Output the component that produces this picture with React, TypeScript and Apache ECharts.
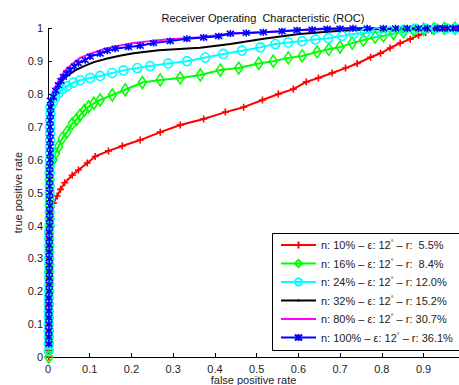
import React, { useEffect, useRef } from "react";
import * as echarts from "echarts";

const FONT = "'Liberation Sans', Arial, Helvetica, sans-serif";

const seriesNames = [
  "n: 10% – ε: 12° – r:  5.5%",
  "n: 16% – ε: 12° – r:  8.4%",
  "n: 24% – ε: 12° – r: 12.0%",
  "n: 32% – ε: 12° – r: 15.2%",
  "n: 80% – ε: 12° – r: 30.7%",
  "n: 100% – ε: 12° – r: 36.1%",
];

const xTicks = [0, 0.1, 0.2, 0.3, 0.4, 0.5, 0.6, 0.7, 0.8, 0.9];

// steep rise near fpr = 0 (shared by all curves, each takes its own part)
const riseTpr = [
  0, 0.02, 0.04, 0.06, 0.08, 0.1, 0.12, 0.14, 0.16, 0.18, 0.2, 0.22, 0.24, 0.26,
  0.28, 0.3, 0.32, 0.34, 0.36, 0.38, 0.4, 0.42, 0.44, 0.46, 0.48, 0.5, 0.52,
  0.54, 0.56, 0.58, 0.6, 0.62, 0.64, 0.66, 0.68, 0.7, 0.72, 0.74, 0.76, 0.78,
];
const riseFpr = [
  0.002, 0.002, 0.002, 0.002, 0.002, 0.002, 0.002, 0.002, 0.002, 0.002, 0.003,
  0.003, 0.003, 0.003, 0.003, 0.003, 0.003, 0.003, 0.003, 0.003, 0.004, 0.004,
  0.004, 0.004, 0.004, 0.004, 0.004, 0.004, 0.004, 0.004, 0.005, 0.005, 0.005,
  0.005, 0.005, 0.005, 0.005, 0.006, 0.006, 0.006,
];

const redFpr = [0.008, 0.013, 0.022, 0.03, 0.04, 0.058, 0.073, 0.094, 0.113, 0.145, 0.178, 0.221, 0.269, 0.317, 0.373, 0.425, 0.469, 0.514, 0.552, 0.588, 0.619, 0.648, 0.681, 0.713, 0.741, 0.773, 0.797, 0.82, 0.844, 0.868, 0.888, 0.905, 0.92, 0.935, 0.95, 0.965, 0.98];
const redTpr = [0.455, 0.468, 0.49, 0.51, 0.53, 0.553, 0.569, 0.59, 0.61, 0.627, 0.642, 0.66, 0.684, 0.706, 0.724, 0.745, 0.76, 0.782, 0.8, 0.815, 0.837, 0.849, 0.864, 0.879, 0.893, 0.912, 0.924, 0.94, 0.955, 0.967, 0.979, 0.987, 0.993, 0.997, 0.999, 1, 1];

const greenFpr = [0.012, 0.018, 0.025, 0.034, 0.046, 0.058, 0.068, 0.077, 0.087, 0.097, 0.11, 0.125, 0.154, 0.185, 0.226, 0.269, 0.317, 0.365, 0.413, 0.457, 0.505, 0.54, 0.576, 0.609, 0.645, 0.673, 0.7, 0.729, 0.756, 0.784, 0.804, 0.828, 0.852, 0.876, 0.9, 0.925, 0.95, 0.975];
const greenTpr = [0.6, 0.62, 0.64, 0.665, 0.685, 0.71, 0.722, 0.736, 0.75, 0.761, 0.772, 0.782, 0.797, 0.813, 0.835, 0.843, 0.849, 0.858, 0.873, 0.879, 0.893, 0.9, 0.91, 0.916, 0.928, 0.936, 0.943, 0.955, 0.964, 0.973, 0.977, 0.984, 0.989, 0.994, 0.997, 0.999, 1, 1];

const cyanFpr = [0.012, 0.017, 0.025, 0.035, 0.046, 0.061, 0.077, 0.101, 0.125, 0.154, 0.181, 0.214, 0.245, 0.288, 0.333, 0.377, 0.42, 0.465, 0.509, 0.545, 0.576, 0.609, 0.641, 0.672, 0.705, 0.732, 0.76, 0.788, 0.82, 0.852, 0.88, 0.905, 0.93, 0.955, 0.975];
const cyanTpr = [0.775, 0.79, 0.803, 0.815, 0.824, 0.835, 0.842, 0.849, 0.855, 0.864, 0.872, 0.879, 0.885, 0.893, 0.9, 0.911, 0.922, 0.932, 0.942, 0.952, 0.957, 0.961, 0.966, 0.97, 0.977, 0.983, 0.986, 0.988, 0.991, 0.995, 0.998, 0.999, 1, 1, 1];

const blackFpr = [0.007, 0.01, 0.013, 0.017, 0.025, 0.037, 0.049, 0.065, 0.085, 0.11, 0.142, 0.175, 0.205, 0.265, 0.325, 0.365, 0.437, 0.517, 0.597, 0.677, 0.756, 0.85, 0.985];
const blackTpr = [0.745, 0.77, 0.782, 0.805, 0.821, 0.845, 0.858, 0.872, 0.884, 0.897, 0.908, 0.917, 0.924, 0.933, 0.938, 0.941, 0.952, 0.968, 0.982, 0.99, 0.996, 0.999, 1];

const magentaFpr = [0.008, 0.013, 0.022, 0.03, 0.037, 0.046, 0.061, 0.077, 0.1, 0.125, 0.16, 0.205, 0.245, 0.285, 0.365, 0.437, 0.517, 0.6, 0.665, 0.985];
const magentaTpr = [0.795, 0.812, 0.833, 0.85, 0.864, 0.878, 0.894, 0.91, 0.922, 0.933, 0.945, 0.955, 0.961, 0.966, 0.973, 0.984, 0.988, 0.994, 1, 1];

const blueFpr = [0.013, 0.019, 0.025, 0.031, 0.037, 0.045, 0.053, 0.063, 0.073, 0.089, 0.101, 0.125, 0.142, 0.161, 0.193, 0.221, 0.253, 0.293, 0.333, 0.373, 0.409, 0.437, 0.475, 0.516, 0.561, 0.597, 0.633, 0.669, 0.7, 0.731, 0.765, 0.804, 0.833, 0.861, 0.888, 0.909, 0.933, 0.945, 0.957, 0.971, 0.983];
const blueTpr = [0.791, 0.81, 0.827, 0.84, 0.852, 0.863, 0.873, 0.884, 0.894, 0.903, 0.914, 0.923, 0.932, 0.938, 0.943, 0.947, 0.955, 0.961, 0.968, 0.972, 0.976, 0.984, 0.986, 0.988, 0.991, 0.994, 0.996, 0.998, 0.999, 1, 1, 1, 1, 1, 1, 1, 1, 1, 1, 1, 1];

function build(riseFrom: number, riseTo: number, fpr: number[], tpr: number[]) {
  const pts: number[][] = [];
  for (let i = 0; i < riseTpr.length; i++) {
    if (riseTpr[i] >= riseFrom && riseTpr[i] <= riseTo) pts.push([riseFpr[i], riseTpr[i]]);
  }
  for (let i = 0; i < fpr.length; i++) pts.push([fpr[i], tpr[i]]);
  return pts;
}

const PLUS = "path://M5,0L5,10M0,5L10,5";
const STAR = "path://M5,0L5,10M1,1L9,9M9,1L1,9";
const DOT = "path://M0,0L0,0M5,3.5L5,6.5M10,10L10,10";

export default function App() {
  const ref = useRef<HTMLDivElement>(null);
  useEffect(() => {
    document.body.style.margin = "0";
    const chart = echarts.init(ref.current!, null, { renderer: "svg" });
    const mk = (
      name: string,
      color: string,
      data: number[][],
      symbol: string,
      size: number | number[],
      hollow: boolean,
      show: boolean,
      border: string
    ) => ({
      name,
      type: "line",
      data,
      symbol,
      symbolSize: size,
      showSymbol: show,
      lineStyle: { color, width: 2 },
      itemStyle: {
        color: hollow ? "rgba(0,0,0,0)" : color,
        borderColor: border,
        borderWidth: 1.6,
      },
      emphasis: { disabled: true },
      clip: false,
    });
    const none = "rgba(0,0,0,0)";
    chart.setOption({
      animation: false,
      title: {
        text: "Receiver Operating  Characteristic (ROC)",
        left: 258,
        top: 7,
        textAlign: "center",
        textStyle: { fontFamily: FONT, fontSize: 11, fontWeight: "normal", color: "#111" },
      },
      grid: { left: 48, right: 0, top: 28.3, bottom: 28, outerBoundsMode: "none", containLabel: false },
      xAxis: {
        type: "value",
        min: 0,
        max: 0.985,
        name: "false positive rate",
        nameLocation: "middle",
        nameGap: 17,
        nameMoveOverlap: false,
        nameTextStyle: { fontFamily: FONT, fontSize: 11, color: "#222" },
        axisLine: { lineStyle: { color: "#000", width: 1 } },
        axisTick: { inside: true, length: 4, customValues: xTicks, lineStyle: { color: "#000" } },
        axisLabel: { customValues: xTicks, margin: 6, fontFamily: FONT, fontSize: 11, color: "#222" },
        splitLine: { show: false },
      },
      yAxis: {
        type: "value",
        min: 0,
        max: 1,
        interval: 0.1,
        name: "true positive rate",
        nameLocation: "middle",
        nameGap: 25,
        nameMoveOverlap: false,
        nameTextStyle: { fontFamily: FONT, fontSize: 11, color: "#222" },
        axisLine: { show: true, lineStyle: { color: "#000", width: 1 } },
        axisTick: { show: true, inside: true, length: 4, lineStyle: { color: "#000" } },
        axisLabel: { margin: 5, fontFamily: FONT, fontSize: 11, color: "#222" },
        splitLine: { show: false },
      },
      legend: {
        orient: "vertical",
        left: 280,
        top: 239,
        padding: 0,
        itemWidth: 35,
        itemHeight: 9,
        itemGap: 7,
        z: 10,
        data: seriesNames,
        formatter: (name: string) => {
          const parts = name.split("°");
          return `{t|${parts[0]}}{s|°}{t|${parts[1]}}`;
        },
        textStyle: {
          fontFamily: FONT,
          fontSize: 11,
          color: "#222",
          rich: {
            t: { fontFamily: FONT, fontSize: 11, color: "#222", lineHeight: 12 },
            s: { fontFamily: FONT, fontSize: 7, color: "#222", lineHeight: 7, verticalAlign: "top" },
          },
        },
      },
      graphic: [
        {
          type: "rect",
          z: 5,
          shape: { x: 272.5, y: 233.5, width: 200, height: 117 },
          style: { fill: "#fff", stroke: "#000", lineWidth: 1 },
        },
      ],
      series: [
        mk(seriesNames[0], "#ff0000", build(0, 0.44, redFpr, redTpr), PLUS, 7, false, true, "#ff0000"),
        mk(seriesNames[1], "#00ff00", build(0, 0.58, greenFpr, greenTpr), "diamond", [8, 12], true, true, "#00ff00"),
        mk(seriesNames[2], "#00ffff", build(0.02, 0.76, cyanFpr, cyanTpr), "circle", 9, true, true, "#00ffff"),
        mk(seriesNames[3], "#000000", build(0.04, 0.74, blackFpr, blackTpr), DOT, 4, true, false, "#000000"),
        mk(seriesNames[4], "#ff00ff", build(0.04, 0.78, magentaFpr, magentaTpr), "circle", 4, true, false, none),
        mk(seriesNames[5], "#0000ff", build(0.03, 0.78, blueFpr, blueTpr), STAR, 7, false, true, "#0000ff"),
      ],
    });
    return () => chart.dispose();
  }, []);
  return (
    <div
      ref={ref}
      style={{ position: "absolute", left: 0, top: 0, width: 459, height: 385 }}
    />
  );
}
